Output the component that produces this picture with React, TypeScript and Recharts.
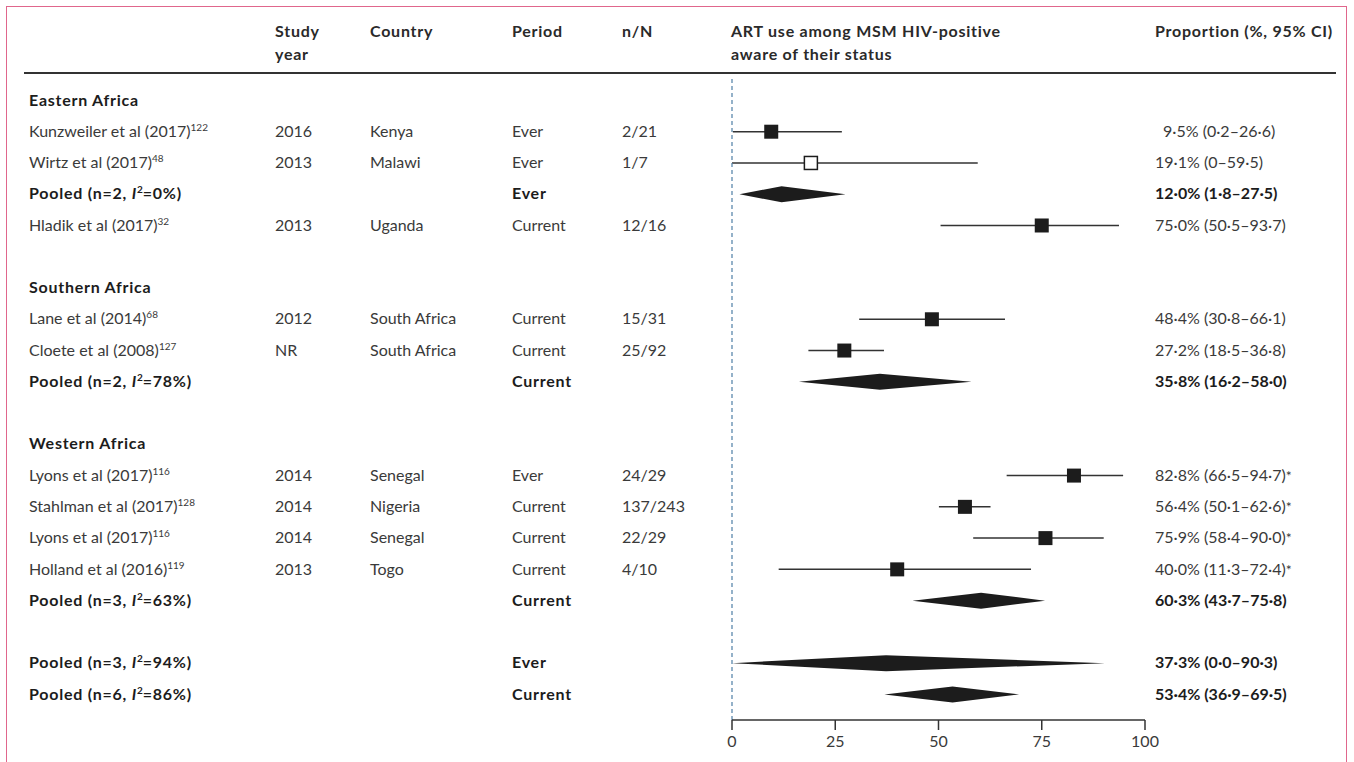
import { Bar, ComposedChart, ReferenceLine, XAxis, YAxis } from "recharts";

// one entry per table row, top to bottom
const rowKinds = [
  "region", "study", "open", "pooled", "study", "blank",
  "region", "study", "study", "pooled", "blank",
  "region", "study", "study", "study", "study", "pooled", "blank",
  "pooled", "pooled",
];
const rowLabels = [
  "Eastern Africa", "Kunzweiler et al (2017)", "Wirtz et al (2017)", "", "Hladik et al (2017)", "",
  "Southern Africa", "Lane et al (2014)", "Cloete et al (2008)", "", "",
  "Western Africa", "Lyons et al (2017)", "Stahlman et al (2017)", "Lyons et al (2017)", "Holland et al (2016)", "", "",
  "", "",
];
const refs = ["", "122", "48", "", "32", "", "", "68", "127", "", "", "", "116", "128", "116", "119", "", "", "", ""];
const years = ["", "2016", "2013", "", "2013", "", "", "2012", "NR", "", "", "", "2014", "2014", "2014", "2013", "", "", "", ""];
const countries = [
  "", "Kenya", "Malawi", "", "Uganda", "",
  "", "South Africa", "South Africa", "", "",
  "", "Senegal", "Nigeria", "Senegal", "Togo", "", "",
  "", "",
];
const periods = [
  "", "Ever", "Ever", "Ever", "Current", "",
  "", "Current", "Current", "Current", "",
  "", "Ever", "Current", "Current", "Current", "Current", "",
  "Ever", "Current",
];
const counts = ["", "2/21", "1/7", "", "12/16", "", "", "15/31", "25/92", "", "", "", "24/29", "137/243", "22/29", "4/10", "", "", "", ""];
const pooledN = [0, 0, 0, 2, 0, 0, 0, 0, 0, 2, 0, 0, 0, 0, 0, 0, 3, 0, 3, 6];
const pooledI2 = [0, 0, 0, 0, 0, 0, 0, 0, 0, 78, 0, 0, 0, 0, 0, 0, 63, 0, 94, 86];

const estimates = [null, 9.5, 19.1, 12.0, 75.0, null, null, 48.4, 27.2, 35.8, null, null, 82.8, 56.4, 75.9, 40.0, 60.3, null, 37.3, 53.4];
const lowers = [null, 0.2, 0, 1.8, 50.5, null, null, 30.8, 18.5, 16.2, null, null, 66.5, 50.1, 58.4, 11.3, 43.7, null, 0.0, 36.9];
const uppers = [null, 26.6, 59.5, 27.5, 93.7, null, null, 66.1, 36.8, 58.0, null, null, 94.7, 62.6, 90.0, 72.4, 75.8, null, 90.3, 69.5];
const ciLabels = [
  "", "9·5% (0·2–26·6)", "19·1% (0–59·5)", "12·0% (1·8–27·5)", "75·0% (50·5–93·7)", "",
  "", "48·4% (30·8–66·1)", "27·2% (18·5–36·8)", "35·8% (16·2–58·0)", "",
  "", "82·8% (66·5–94·7)", "56·4% (50·1–62·6)", "75·9% (58·4–90·0)", "40·0% (11·3–72·4)", "60·3% (43·7–75·8)", "",
  "37·3% (0·0–90·3)", "53·4% (36·9–69·5)",
];
const starred = [false, false, false, false, false, false, false, false, false, false, false, false, true, true, true, true, false, false, false, false];

const xTicks = [0, 25, 50, 75, 100];

const data = rowKinds.map((kind, i) => ({
  row: i,
  kind,
  est: estimates[i],
  range: estimates[i] == null ? null : [lowers[i], uppers[i]],
}));
const rowTicks = data.map((d) => d.row);

const FONT = "Lato, 'Open Sans', sans-serif";
const TEXT = "#3a3a3a";
const DARK = "#1c1c1c";
const COL = { study: 29, year: 275, country: 370, period: 512, count: 622, prop: 1155 };
const BOLD_SPACING = 0.75;

function Sup({ children }: { children: string }) {
  return (
    <tspan fontSize={10} dy={-6} letterSpacing={0}>
      {children}
    </tspan>
  );
}

function RowTick(props: any) {
  const { y, payload } = props;
  const i = payload.value as number;
  const kind = rowKinds[i];
  const by = y + 5.5;
  if (kind === "blank") return <g />;
  if (kind === "region") {
    return (
      <text x={COL.study} y={by} fontFamily={FONT} fontSize={16} fontWeight={700} fill={DARK} letterSpacing={BOLD_SPACING}>
        {rowLabels[i]}
      </text>
    );
  }
  const bold = kind === "pooled";
  const common = { fontFamily: FONT, fontSize: 16, fontWeight: bold ? 700 : 400, fill: bold ? DARK : TEXT, y: by };
  return (
    <g>
      {bold ? (
        <text x={COL.study} {...common} letterSpacing={BOLD_SPACING}>
          {`Pooled (n=${pooledN[i]}, `}
          <tspan fontStyle="italic">I</tspan>
          <Sup>2</Sup>
          <tspan dy={6}>{`=${pooledI2[i]}%)`}</tspan>
        </text>
      ) : (
        <text x={COL.study} {...common}>
          {rowLabels[i]}
          <Sup>{refs[i]}</Sup>
        </text>
      )}
      <text x={COL.year} {...common}>{years[i]}</text>
      <text x={COL.country} {...common}>{countries[i]}</text>
      <text x={COL.period} {...common} letterSpacing={bold ? BOLD_SPACING : 0}>{periods[i]}</text>
      <text x={COL.count} {...common}>{counts[i]}</text>
      <text x={COL.prop} dx={(estimates[i] ?? 0) < 10 ? 8 : 0} {...common}>
        {ciLabels[i]}
        {starred[i] ? <tspan fontSize={14}>*</tspan> : null}
      </text>
    </g>
  );
}

function ForestMark(props: any) {
  const { x, y, width, height, payload } = props;
  if (!payload || payload.est == null || width == null) return <g />;
  const [lo, hi] = payload.range;
  const cy = y + height / 2;
  const ex = hi === lo ? x : x + (width * (payload.est - lo)) / (hi - lo);
  if (payload.kind === "pooled") {
    const h = 8;
    return (
      <polygon
        points={`${x},${cy} ${ex},${cy - h} ${x + width},${cy} ${ex},${cy + h}`}
        fill={DARK}
      />
    );
  }
  const s = 14;
  return (
    <g>
      <line x1={x} x2={x + width} y1={cy} y2={cy} stroke="#333" strokeWidth={1.5} />
      {payload.kind === "open" ? (
        <rect x={ex - 6.5} y={cy - 6.5} width={13} height={13} fill="#fff" stroke={DARK} strokeWidth={1.5} />
      ) : (
        <rect x={ex - s / 2} y={cy - s / 2} width={s} height={s} fill={DARK} />
      )}
    </g>
  );
}

function Header() {
  const h = { fontFamily: FONT, fontSize: 16, fontWeight: 700, fill: "#2a2a2a", letterSpacing: BOLD_SPACING };
  return (
    <svg width={1354} height={762} style={{ position: "absolute", left: 0, top: 0, pointerEvents: "none" }}>
      <rect x={6.5} y={6.5} width={1340} height={800} fill="none" stroke="#e0668c" strokeWidth={1} />
      <text x={COL.year} y={37} {...h}>Study</text>
      <text x={COL.year} y={60} {...h}>year</text>
      <text x={COL.country} y={37} {...h}>Country</text>
      <text x={COL.period} y={37} {...h}>Period</text>
      <text x={COL.count} y={37} {...h}>n/N</text>
      <text x={731} y={37} {...h}>ART use among MSM HIV-positive</text>
      <text x={731} y={60} {...h}>aware of their status</text>
      <text x={COL.prop} y={37} {...h}>Proportion (%, 95% CI)</text>
      <line x1={24} x2={1336} y1={73} y2={73} stroke="#333" strokeWidth={2} />
    </svg>
  );
}

export default function App() {
  return (
    <div style={{ position: "absolute", left: 0, top: 0, width: 1354, height: 762, background: "#fff" }}>
      <ComposedChart
        layout="vertical"
        width={1354}
        height={762}
        data={data}
        margin={{ top: 76, right: 209, left: 0, bottom: 0 }}
      >
        <XAxis
          type="number"
          domain={[0, 100]}
          ticks={xTicks}
          height={42}
          tickSize={10}
          tickMargin={6}
          axisLine={{ stroke: "#333", strokeWidth: 1.5 }}
          tickLine={{ stroke: "#333", strokeWidth: 1.5 }}
          tick={{ fill: TEXT, fontFamily: FONT, fontSize: 16 }}
        />
        <YAxis
          type="number"
          dataKey="row"
          domain={[-0.77, 19.83]}
          allowDataOverflow
          ticks={rowTicks}
          interval={0}
          width={732}
          axisLine={false}
          tickLine={false}
          tick={<RowTick />}
        />
        <ReferenceLine x={0} stroke="#4f7fa6" strokeWidth={1.2} strokeDasharray="4 3" />
        <Bar dataKey="range" barSize={16} shape={<ForestMark />} isAnimationActive={false} />
      </ComposedChart>
      <Header />
    </div>
  );
}
